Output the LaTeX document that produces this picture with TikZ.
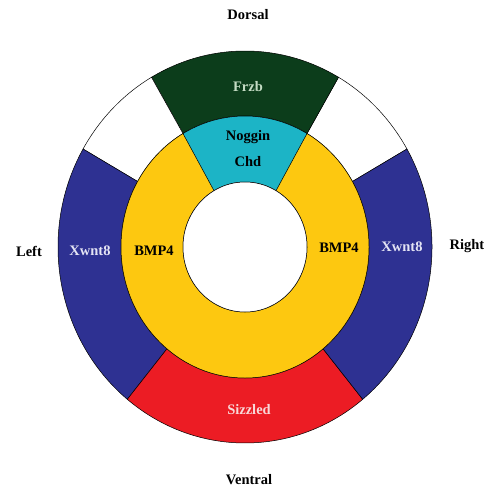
\documentclass[tikz,border=0pt]{standalone}
\usepackage{fontspec}
\setmainfont{Liberation Serif}
\definecolor{frzbgreen}{HTML}{0C3D1B}
\definecolor{chdcyan}{HTML}{1CB4C6}
\definecolor{bmpyellow}{HTML}{FDC810}
\definecolor{wntblue}{HTML}{2E3192}
\definecolor{szlred}{HTML}{EC1C24}
\definecolor{frzbtext}{HTML}{C4DCC4}
\definecolor{szltext}{HTML}{F8D8D8}
\definecolor{wnttext}{HTML}{E4E4F4}
% annular sector: fill, start, end, outer rx, outer ry, inner rx, inner ry
\newcommand{\ringseg}[7]{%
  \filldraw[seg, fill=#1] (#2:#4 and #5)
    arc[start angle=#2, end angle=#3, x radius=#4, y radius=#5]
    -- (#3:#6 and #7)
    arc[start angle=#3, end angle=#2, x radius=#6, y radius=#7] -- cycle;}

\begin{document}
\begin{tikzpicture}[x=1pt, y=1pt,
  seg/.style={draw=black, line width=0.5pt},
  lbl/.style={font=\fontsize{14.5}{16}\selectfont\bfseries, inner sep=0pt}]
  \useasboundingbox (0,0) rectangle (489,488);
  \begin{scope}[shift={(245,241)}]
    \foreach \col/\a/\b in {white/30/60, frzbgreen/60/120, white/120/150,
                            wntblue/150/231, szlred/231/309, wntblue/309/390}
      {\ringseg{\col}{\a}{\b}{187}{196}{124}{131}}
    \filldraw[seg, fill=bmpyellow, even odd rule]
      (0,0) ellipse[x radius=124, y radius=131]
      (0,0) ellipse[x radius=62, y radius=65];
    \ringseg{chdcyan}{60}{120}{124}{131}{62}{65}
    \filldraw[seg, fill=white] (0,0) ellipse[x radius=62, y radius=65];
  \end{scope}
  \node[lbl] (dorsal)  at (248,473) {Dorsal};
  \node[lbl] (ventral) at (249,8)   {Ventral};
  \node[lbl] (left)    at (29,237)  {Left};
  \node[lbl] (right)   at (467,242) {Right};
  \node[lbl, text=frzbtext] (frzb)  at (248,401) {Frzb};
  \node[lbl] (noggin)  at (248,351) {Noggin};
  \node[lbl] (chd)     at (248,326) {Chd};
  \node[lbl] (bmpl)    at (154,237) {BMP4};
  \node[lbl] (bmpr)    at (339,240) {BMP4};
  \node[lbl, text=wnttext] (wntl) at (90,237)  {Xwnt8};
  \node[lbl, text=wnttext] (wntr) at (402,241) {Xwnt8};
  \node[lbl, text=szltext] (szl)  at (249,78)  {Sizzled};
\end{tikzpicture}
\end{document}
